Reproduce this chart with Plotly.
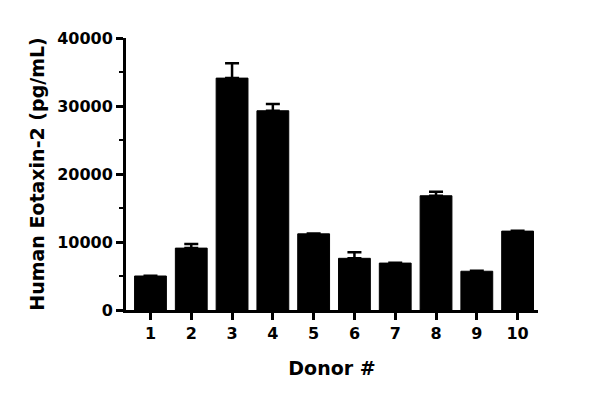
import plotly.graph_objects as go

donors = ["1", "2", "3", "4", "5", "6", "7", "8", "9", "10"]
means = [5000, 9100, 34100, 29300, 11200, 7600, 6900, 16800, 5700, 11600]
sems = [50, 600, 2200, 1000, 50, 900, 50, 600, 80, 50]

font_family = "DejaVu Sans"

fig = go.Figure()
fig.add_trace(go.Bar(
    x=donors, y=means,
    marker=dict(color="black", line=dict(color="black", width=1)),
    width=0.78,
    error_y=dict(type="data", array=sems, arrayminus=[0] * len(sems), symmetric=False,
                 color="black", thickness=2.5, width=7),
))

# page body adds ~8px offset, margins compensate for it
fig.update_layout(
    width=600, height=403,
    margin=dict(l=118, r=70, t=30, b=101),
    plot_bgcolor="white", paper_bgcolor="white",
    showlegend=False,
    font=dict(family=font_family, size=16, color="black", weight="bold"),
)
fig.update_xaxes(
    type="category", range=[-0.6, 9.5],
    showline=True, linecolor="black", linewidth=3,
    ticks="outside", ticklen=7, tickwidth=2.5, tickcolor="black",
    showgrid=False,
    tickfont=dict(size=16, weight="bold"),
    title=dict(text="Donor #", font=dict(size=19, weight="bold"), standoff=20),
)
fig.update_yaxes(
    range=[0, 40000], dtick=10000, tickformat="d",
    showline=True, linecolor="black", linewidth=3,
    ticks="outside", ticklen=7, tickwidth=2.5, tickcolor="black",
    minor=dict(dtick=5000, ticks="outside", ticklen=4, tickwidth=2, tickcolor="black"),
    showgrid=False, zeroline=False,
    tickfont=dict(size=16, weight="bold"),
    title=dict(text="Human Eotaxin-2 (pg/mL)", font=dict(size=19, weight="bold"), standoff=8),
)

fig.write_html("out.html")
